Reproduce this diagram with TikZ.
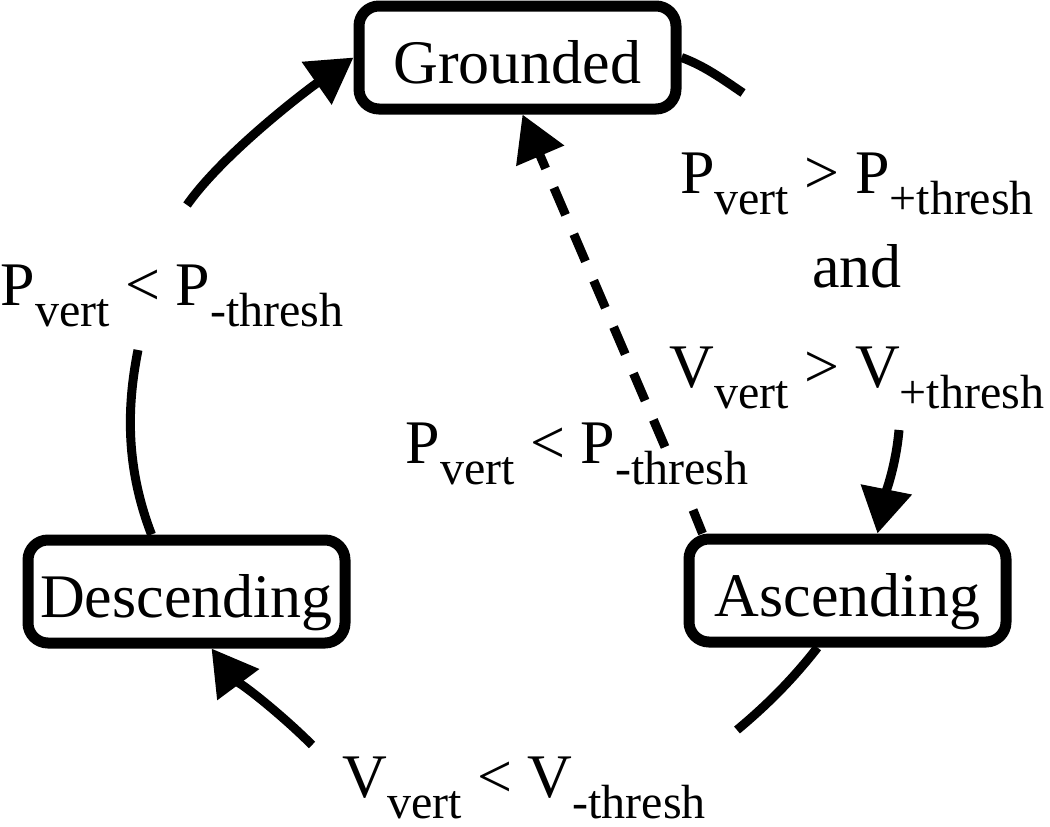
\documentclass[tikz,border=0pt]{standalone}
\usepackage{fontspec}
\setmainfont{Liberation Serif}
\usetikzlibrary{arrows.meta}

% lowered, smaller text for the index part of a condition
\newcommand{\lowtxt}[1]{\raisebox{-21pt}{\fontsize{48}{48}\selectfont #1}}

\begin{document}
\begin{tikzpicture}[x=1pt,y=-1pt,
  state/.style={draw, line width=11pt, rounded corners=20pt, fill=white,
    minimum width=317pt, minimum height=103pt, inner sep=0pt,
    text height=52pt, text depth=0pt, font=\fontsize{62}{62}\selectfont},
  cond/.style={anchor=base, inner sep=0pt, font=\fontsize{62}{62}\selectfont},
  trans/.style={line width=9pt},
  tip/.style={-{Triangle[length=45pt,width=50pt]}}]
  \useasboundingbox (0,0) rectangle (1050,827);
  % --- the three states, on a loose circle
  \node[state] (g) at (517.5,57.5) {Grounded};
  \node[state] (d) at (186.5,591.5) {Descending};
  \node[state] (a) at (847.5,590.5) {Ascending};
  % --- conditions, set beside the gaps in the arcs
  \node[cond] (gacond1) at (857,193) {P\lowtxt{vert} > P\lowtxt{+thresh}};
  \node[cond] (gacond2) at (857,287) {and};
  \node[cond] (gacond3) at (857,387) {V\lowtxt{vert} > V\lowtxt{+thresh}};
  \node[cond] (dgcond) at (172,305) {P\lowtxt{vert} < P\lowtxt{-thresh}};
  \node[cond] (agcond) at (577,463) {P\lowtxt{vert} < P\lowtxt{-thresh}};
  \node[cond] (adcond) at (524,797) {V\lowtxt{vert} < V\lowtxt{-thresh}};
  % --- where each arc breaks off for its label
  \coordinate (ga1) at (743,93);
  \coordinate (ga2) at (899,430);
  \coordinate (dg1) at (138,350);
  \coordinate (dg2) at (187,205);
  \coordinate (ad1) at (737,730);
  \coordinate (ad2) at (312,745);
  \coordinate (ag1) at (693,510);
  \coordinate (ag2) at (665,447);
  % --- Grounded -> Ascending
  \draw[trans] (g.east) .. controls +(22,8) and +(-22,-15) .. (ga1);
  \draw[trans,tip] (ga2) .. controls +(-3,35) and +(8,-40) .. ([xshift=30pt]a.north);
  % --- Ascending -> Descending
  \draw[trans] ([xshift=-30pt]a.south) .. controls +(-25,32) and +(30,-25) .. (ad1);
  \draw[trans,tip] (ad2) .. controls +(-35,-35) and +(20,27) .. ([xshift=25pt]d.south);
  % --- Descending -> Grounded
  \draw[trans] ([xshift=-35pt]d.north) .. controls +(-25,-65) and +(-12,60) .. (dg1);
  \draw[trans,tip] (dg2) .. controls +(35,-50) and +(-50,35) .. (g.west);
  % --- shortcut Ascending -> Grounded, dashed, broken by its label
  \draw[trans] ([xshift=-145pt]a.north) -- (ag1);
  \draw[trans,tip,dash pattern=on 29.5pt off 21pt] (ag2) -- ([xshift=5pt]g.south);
\end{tikzpicture}
\end{document}
